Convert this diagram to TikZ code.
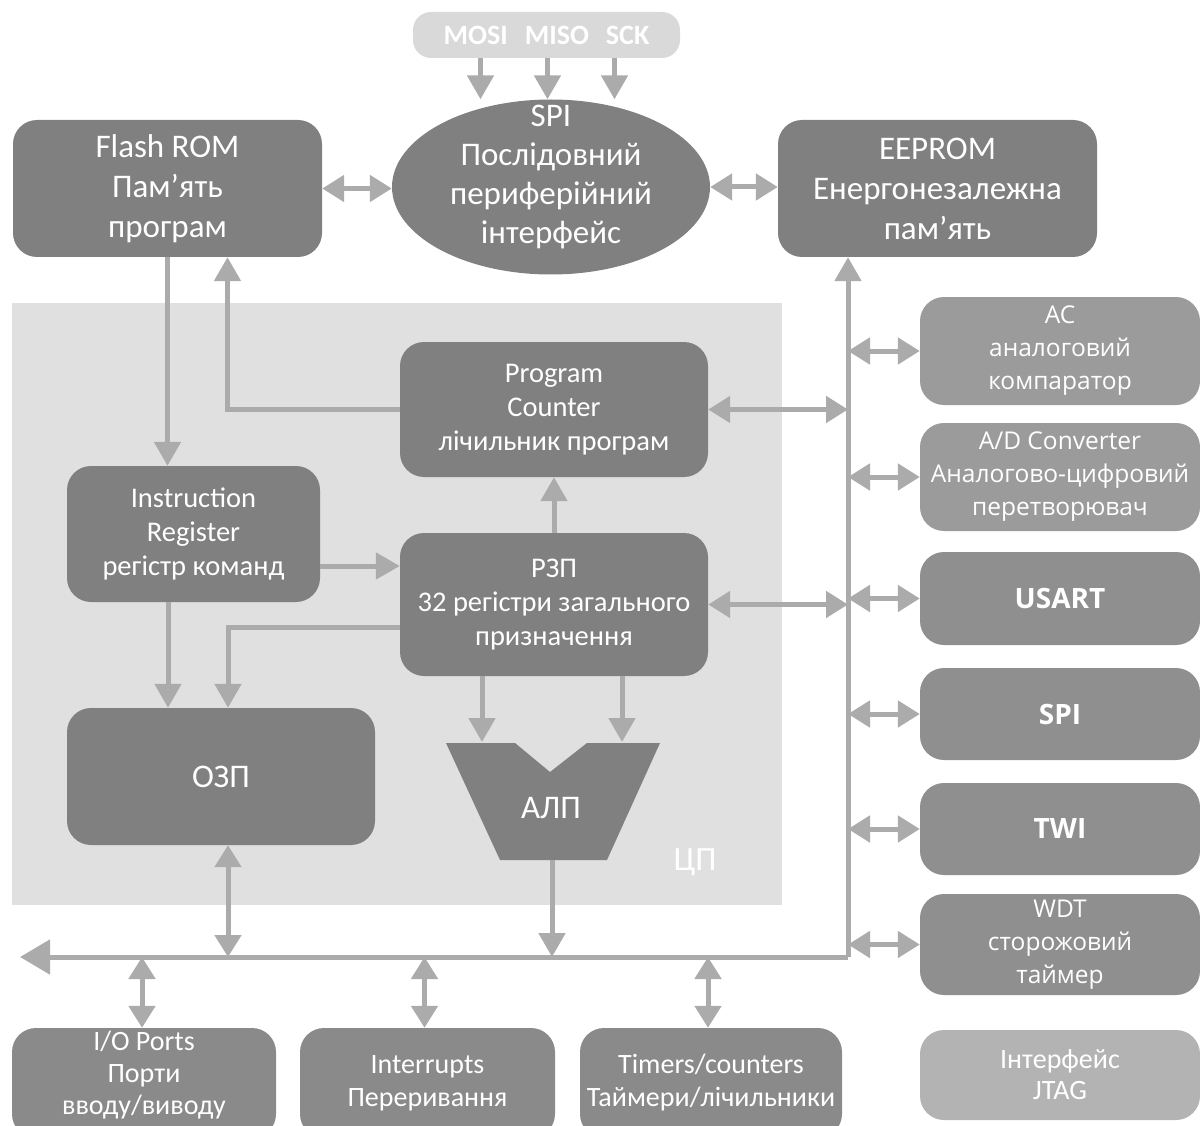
\documentclass[tikz,border=0pt]{standalone}
\usepackage{fontspec}
\setmainfont{Carlito}
\newfontfamily\wide{Open Sans}
\usetikzlibrary{arrows.meta,shapes.geometric}
\definecolor{dk}{HTML}{808080}
\definecolor{rta}{HTML}{9B9B9B}
\definecolor{rtb}{HTML}{8F8F8F}
\definecolor{bot}{HTML}{8A8A8A}
\definecolor{jt}{HTML}{B3B3B3}
\definecolor{mosic}{HTML}{D9D9D9}
\definecolor{bgc}{HTML}{E0E0E0}
\definecolor{arr}{HTML}{ABABAB}
\tikzset{
  box/.style={fill=dk, rounded corners=24pt, text=white, align=center, inner sep=0pt,
    font=\fontsize{33}{40}\selectfont},
  midbox/.style={box, font=\fontsize{28.5}{34}\selectfont},
  rbox/.style={box, minimum width=280, font=\wide\fontsize{24.5}{33}\selectfont},
  bbox/.style={box, fill=bot, font=\fontsize{28}{33}\selectfont},
  conn/.style={draw=arr, line width=5pt},
  ar/.style={conn, -{Triangle[width=26pt,length=24pt]}},
  dar/.style={conn, {Triangle[width=26pt,length=22pt]}-{Triangle[width=26pt,length=22pt]}},
}
\begin{document}
\begin{tikzpicture}[x=1pt,y=-1pt]
\useasboundingbox (0,0) rectangle (1200,1126);
\clip (0,0) rectangle (1200,1126);
% CPU background
\fill[bgc] (12,303) rectangle (782,905);
\node[text=white, font=\fontsize{34}{38}\selectfont] (cpu) at (695,862) {ЦП};

% top
\node[fill=mosic, rounded corners=18pt, minimum width=267, minimum height=46, inner sep=0pt,
  text=white, font=\bfseries\fontsize{28}{30}\selectfont] (mosi) at (546.5,35) {MOSI\hspace{17pt}MISO\hspace{17pt}SCK};
\node[ellipse, fill=dk, minimum width=318, minimum height=175, inner sep=0pt] (spi) at (551,187) {};
\node[text=white, align=center, font=\fontsize{33}{39}\selectfont] (spitext) at (551,177)
  {SPI\\Послідовний\\периферійний\\інтерфейс};
\node[box, minimum width=309, minimum height=137] (flash) at (167.5,188.5) {Flash ROM\\Пам’ять\\програм};
\node[box, minimum width=319, minimum height=137] (eeprom) at (937.5,188.5) {EEPROM\\Енергонезалежна\\пам’ять};

% CPU inner
\node[midbox, minimum width=308, minimum height=135] (pc) at (554,409.5) {Program\\Counter\\лічильник програм};
\node[midbox, minimum width=253, minimum height=136] (ir) at (193.5,534) {Instruction\\Register\\регістр команд};
\node[midbox, minimum width=308, minimum height=143] (rzp) at (554,604.5) {РЗП\\32 регістри загального\\призначення};
\node[box, minimum width=308, minimum height=137] (ozp) at (221,776.5) {ОЗП};
\fill[dk] (446,743) -- (515,743) -- (550,772) -- (587,743) -- (660,743) -- (607,860) -- (500,860) -- cycle;
\node[text=white, font=\fontsize{33}{36}\selectfont] (alu) at (551,808) {АЛП};
\coordinate (aluinA) at (482,742);
\coordinate (aluinB) at (622,742);
\coordinate (aluout) at (552,860);

% right column
\node[rbox, fill=rta, minimum height=108] (ac) at (1060,351) {AC\\аналоговий\\компаратор};
\node[rbox, fill=rta, minimum height=108] (adc) at (1060,477) {A/D Converter\\Аналогово-цифровий\\перетворювач};
\node[rbox, fill=rtb, minimum height=93, font=\wide\bfseries\fontsize{28}{30}\selectfont] (usart) at (1060,598.5) {USART};
\node[rbox, fill=rtb, minimum height=92, font=\wide\bfseries\fontsize{28}{30}\selectfont] (spib) at (1060,714) {SPI};
\node[rbox, fill=rtb, minimum height=92, font=\wide\bfseries\fontsize{28}{30}\selectfont] (twi) at (1060,829) {TWI};
\node[rbox, fill=rtb, minimum height=101] (wdt) at (1060,944.5) {WDT\\сторожовий\\таймер};
\node[rbox, fill=jt, minimum height=90, font=\fontsize{28}{31}\selectfont] (jtag) at (1060,1075) {Інтерфейс\\JTAG};

% bottom
\node[bbox, minimum width=264, minimum height=110] (iop) at (144,1083) {};
\node[text=white, align=center, font=\fontsize{28}{32}\selectfont] (ioptext) at (144,1075) {I/O Ports\\Порти\\вводу/виводу};
\node[bbox, minimum width=255, minimum height=110] (intr) at (427.5,1083) {Interrupts\\Переривання};
\node[bbox, minimum width=262, minimum height=110] (tim) at (711,1083) {Timers/counters\\Таймери/лічильники};

% bus
\coordinate (busR) at (848,957);
\coordinate (busL) at (20,957);
\draw[conn, -{Triangle[width=34pt,length=30pt]}] (busR) -- (busL);
\draw[ar] (busR) -- (busR |- eeprom.south);

% connectors top
\draw[ar] ([xshift=-66]mosi.south) -- ([xshift=-66]mosi.south |- spi.north);
\draw[ar] ([xshift=1]mosi.south) -- ([xshift=1]mosi.south |- spi.north);
\draw[ar] ([xshift=68]mosi.south) -- ([xshift=68]mosi.south |- spi.north);
\draw[dar] (flash.east) -- (flash.east -| spi.west);
\draw[dar] (spi.east) -- (spi.east -| eeprom.west);

% CPU connectors
\draw[ar] (flash.south) -- (flash.south |- ir.north);
\draw[ar] (pc.west) -| ([xshift=60]flash.south);
\draw[dar] (pc.east) -- (pc.east -| busR);
\draw[ar] (rzp.north) -- (pc.south);
\draw[ar] ([yshift=-32]ir.east) -- ([yshift=-32]ir.east -| rzp.west);
\draw[dar] (rzp.east) -- (rzp.east -| busR);
\draw[ar] ([xshift=-25.5]ir.south) -- ([xshift=-25.5]ir.south |- ozp.north);
\draw[ar] ([yshift=-22.5]rzp.west) -| ([xshift=7]ozp.north);
\draw[ar] (rzp.south -| aluinA) -- (aluinA);
\draw[ar] (rzp.south -| aluinB) -- (aluinB);
\draw[ar] (aluout) -- (aluout |- busL);
\draw[dar] ([xshift=7]ozp.south) -- ([xshift=7]ozp.south |- busL);

% right connectors
\foreach \n in {ac,adc,usart,spib,twi,wdt}
  \draw[dar] (busR |- \n.west) -- (\n.west);

% bottom connectors
\draw[dar] ([xshift=-2]iop.north |- busL) -- ([xshift=-2]iop.north);
\draw[dar] ([xshift=-3]intr.north |- busL) -- ([xshift=-3]intr.north);
\draw[dar] ([xshift=-3]tim.north |- busL) -- ([xshift=-3]tim.north);
\end{tikzpicture}
\end{document}
